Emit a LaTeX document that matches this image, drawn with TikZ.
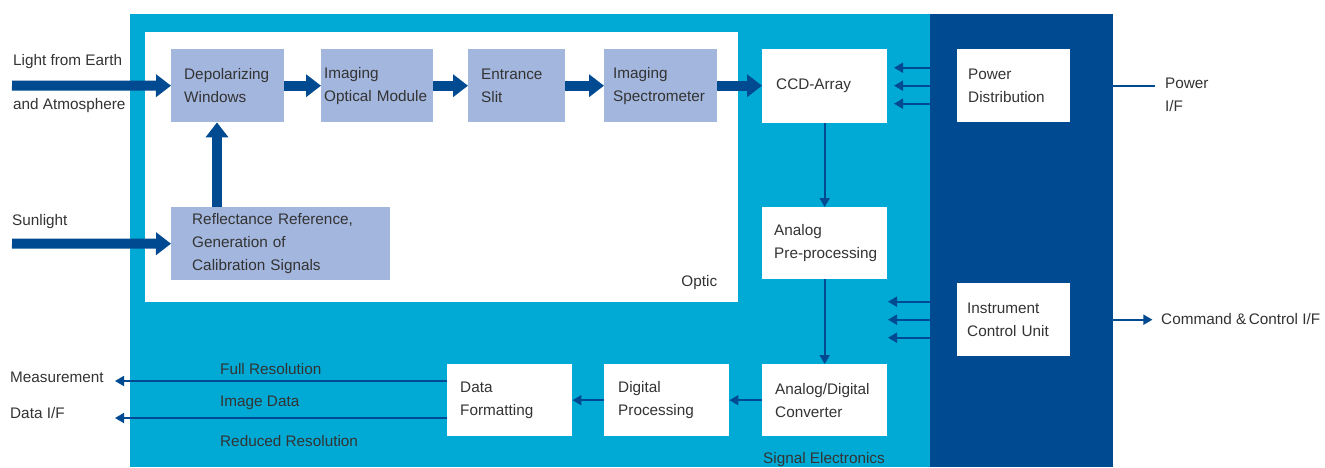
\documentclass[tikz,border=0pt]{standalone}
\usepackage{fontspec}
\setmainfont{Liberation Sans}
\usetikzlibrary{arrows.meta}
\definecolor{cyanbg}{HTML}{00AAD5}
\definecolor{navy}{HTML}{004A91}
\definecolor{lblue}{HTML}{A3B6DD}
\definecolor{txt}{HTML}{333333}
\tikzset{
  >=latex,
}
\tikzstyle{every node}=[font=\fontsize{15.3pt}{23pt}\selectfont,text=txt,inner sep=0pt]
\tikzstyle{blk}=[anchor=north west,align=left,minimum height=73pt,execute at begin node={\hyphenpenalty=10000\exhyphenpenalty=10000}]
\tikzstyle{wblk}=[blk,fill=white]
\tikzstyle{oblk}=[blk,fill=lblue]
\tikzstyle{fat}=[line width=10pt,navy,-{Triangle[width=22pt,length=15pt]}]
\tikzstyle{thin}=[line width=1.8pt,navy,-{Triangle[width=10pt,length=9pt]}]

\begin{document}
\begin{tikzpicture}[x=1pt,y=-1pt]
    \useasboundingbox (0,0) rectangle (1325,467);
    % background areas
    \node[fill=cyanbg,anchor=north west,minimum width=800pt,minimum height=453pt] (sig) at (130,14) {};
    \node[fill=navy,anchor=north west,minimum width=183pt,minimum height=453pt] (ctl) at (930,14) {};
    \node[fill=white,anchor=north west,minimum width=593pt,minimum height=270pt] (optic) at (145,32) {};

    % optic blocks
    \node[oblk,text width=87pt,inner xsep=13pt] (dep) at (171,49) {Depolarizing\\Windows};
    \node[oblk,text width=106pt,inner xsep=3pt] (iom) at (321,49) {Imaging\\Optical~Module};
    \node[oblk,text width=71pt,inner xsep=13pt] (slit) at (468,49) {Entrance\\Slit};
    \node[oblk,text width=95pt,inner xsep=9pt] (spec) at (604,49) {Imaging\\Spectrometer};
    \node[oblk,text width=177pt,inner xsep=21pt] (refl) at (171,207)
    {Reflectance~Reference,\\Generation~of\\Calibration~Signals};

    % electronics blocks
    \node[wblk,text width=97pt,inner xsep=14pt,minimum height=74pt] (ccd) at (762,49) {CCD-Array};
    \node[wblk,text width=101pt,inner xsep=12pt,minimum height=72pt] (pre) at (762,207) {Analog\\Pre-processing};
    \node[wblk,text width=99pt,inner xsep=13pt,minimum height=72pt] (adc) at (762,364) {Analog/Digital\\Converter};
    \node[wblk,text width=97pt,inner xsep=14pt,minimum height=72pt] (dig) at (604,364) {Digital\\Processing};
    \node[wblk,text width=99pt,inner xsep=13pt,minimum height=72pt] (fmt) at (447,364) {Data\\Formatting};
    \node[wblk,text width=91pt,inner xsep=11pt] (pwr) at (957,49) {Power\\Distribution};
    \node[wblk,text width=93pt,inner xsep=10pt] (icu) at (957,283) {Instrument\\Control~Unit};

    % labels
    \node[anchor=base east] (optlbl) at ([xshift=-21pt,yshift=16pt]optic.south east) {Optic};
    \node[anchor=base west] (sellbl) at ([xshift=1pt,yshift=-27pt]adc.south west) {Signal Electronics};
    \node[anchor=west] (earthtxt) at (13,62) {Light from Earth};
    \node[anchor=west] (atmtxt) at (13,106) {and Atmosphere};
    \node[anchor=west] (suntxt) at (12,222) {Sunlight};
    \node[anchor=west] (meas) at (10,377) {Measurement};
    \node[anchor=west] (dif) at (10,413) {Data I/F};
    \node[anchor=west] (fullres) at (220,369) {Full Resolution};
    \node[anchor=west] (imgdat) at (220,403) {Image Data};
    \node[anchor=west] (redres) at (220,441) {Reduced Resolution};
    \node[anchor=west,align=left] (pwrif) at (1165,95) {Power\\I/F};
    \node[anchor=west] (cmdif) at (1161,319) {Command \&\,Control I/F};

    % light path
    \coordinate (earth) at (12,85.5);
    \coordinate (sun) at (12,243.5);
    \draw[fat] (earth) -- (dep.west);
    \draw[fat] (sun) -- (refl.west);
    \draw[fat] ([xshift=46pt]refl.north west) -- ([xshift=46pt]dep.south west);
    \draw[fat] (dep) -- (iom);
    \draw[fat] (iom) -- (slit);
    \draw[fat] (slit) -- (spec);
    \draw[fat] (spec.east) -- (spec.east -| ccd.west);

    % signal chain
    \draw[thin] (ccd) -- (pre);
    \draw[thin] (pre) -- (adc);
    \draw[thin] (adc) -- (dig);
    \draw[thin] (dig) -- (fmt);
    \coordinate (out1) at (115,381);
    \coordinate (out2) at (115,418);
    \draw[thin] (fmt.west |- out1) -- (out1);
    \draw[thin] (fmt.west |- out2) -- (out2);

    % supply and control lines
    \foreach \dy in {-18,0,18}{
      \draw[thin] ([yshift=\dy pt]pwr.west -| ctl.west) -- ++(-36,0);
      \draw[thin] ([yshift=\dy pt]icu.west -| ctl.west) -- ++(-42,0);
    }
    \draw[line width=1.8pt,navy] (ctl.east |- pwr.east) -- ++(42,0);
    \draw[thin] (ctl.east |- icu.east) -- ++(39,0);
  \end{tikzpicture}
\end{document}
